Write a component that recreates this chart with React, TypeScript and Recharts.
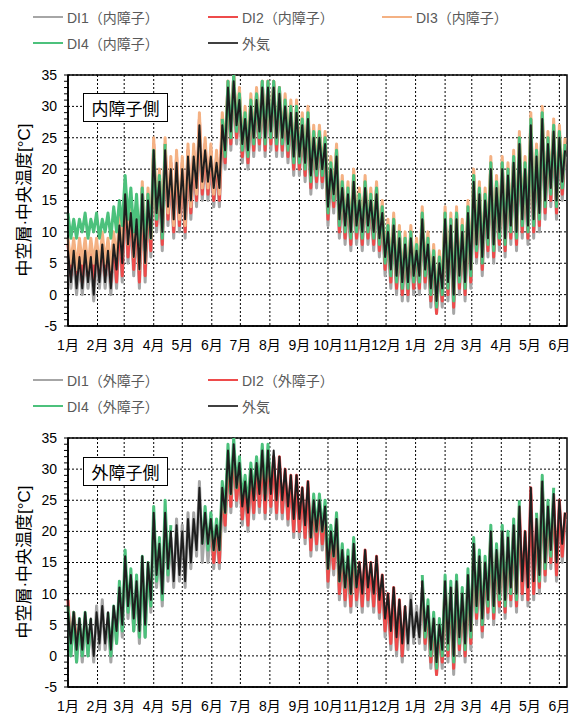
import React from 'react';
import { LineChart, Line, XAxis, YAxis, CartesianGrid, ReferenceArea } from 'recharts';

const N = null;
const DAY_STEP = 3; // one sample every 3 days from Jan 1

const MONTH_TICKS = [0, 31, 59, 90, 120, 151, 181, 212, 243, 273, 304, 334, 365, 396, 424, 455, 485, 516];
const MONTH_LABELS = ['1月', '2月', '3月', '4月', '5月', '6月', '7月', '8月', '9月', '10月', '11月', '12月', '1月', '2月', '3月', '4月', '5月', '6月'];
const Y_TICKS = [-5, -4, -3, -2, -1, 0, 1, 2, 3, 4, 5, 6, 7, 8, 9, 10, 11, 12, 13, 14, 15, 16, 17, 18, 19, 20, 21, 22, 23, 24, 25, 26, 27, 28, 29, 30, 31, 32, 33, 34, 35];
const Y_GRID = [-5, 0, 5, 10, 15, 20, 25, 30, 35];

// 外気
const OUT_AIR = [
  7, 2, 7, 1, 6, 1, 7, 2, 6, 0,
  7, 2, 8, 2, 7, 1, 8, 4, 11, 5,
  16, 8, 13, 6, 12, 4, 16, 5, 15, 9,
  23, 13, 18, 10, 23, 14, 20, 12, 21, 13,
  20, 12, 22, 15, 22, 17, 27, 18, 23, 18,
  22, 17, 21, 17, 27, 23, 33, 26, 34, 27,
  31, 24, 28, 23, 30, 25, 31, 26, 33, 25,
  33, 26, 33, 25, 32, 25, 30, 24, 29, 22,
  29, 22, 27, 21, 28, 19, 25, 20, 25, 20,
  24, 14, 20, 16, 22, 12, 17, 11, 16, 10,
  18, 11, 15, 10, 17, 11, 15, 10, 16, 9,
  13, 6, 10, 4, 11, 3, 9, 2, 8, 2,
  9, 3, 7, 3, 12, 4, 8, 1, 6, -1,
  5, 1, 12, 2, 11, 0, 12, 3, 10, 2,
  13, 4, 18, 8, 16, 6, 15, 9, 20, 8,
  17, 10, 20, 9, 19, 11, 21, 10, 24, 12,
  20, 11, 27, 12, 22, 13, 28, 15, 24, 17,
  26, 15, 25, 18, 23,
];

// 内障子側
const IN_DI1 = [
  6, 1, 6, 0, 5, 0, 6, 1, 5, -1,
  6, 1, 7, 1, 6, 0, 7, 1, 10, 2,
  15, 5, 12, 3, 11, 1, 15, 2, 14, 6,
  22, 10, 17, 7, 22, 11, 19, 9, 20, 10,
  19, 9, 21, 12, 21, 14, 26, 15, 22, 15,
  21, 14, 20, 14, 26, 20, 32, 23, 33, 24,
  30, 21, 27, 20, 29, 22, 30, 23, 32, 22,
  32, 23, 32, 22, 31, 22, 29, 21, 28, 19,
  28, 19, 26, 18, 27, 16, 24, 17, 24, 17,
  23, 11, 19, 13, 21, 9, 16, 8, 15, 7,
  17, 8, 14, 7, 16, 8, 14, 7, 15, 6,
  12, 3, 9, 1, 10, 0, 8, -1, 7, -1,
  8, 0, 6, 0, 11, 1, 7, -2, 5, -3,
  4, -2, 11, -1, 10, -3, 11, 0, 9, -1,
  12, 1, 17, 5, 15, 3, 14, 6, 19, 5,
  16, 7, 19, 6, 18, 8, 20, 7, 23, 9,
  19, 8, 26, 9, 21, 10, 27, 12, 23, 14,
  25, 12, 24, 15, 22,
];

const IN_DI2 = [
  8, 3, 8, 3, 7, 2, 8, 3, 7, 2,
  8, 3, 8, 3, 8, 2, 9, 2, 12, 3,
  17, 6, 14, 4, 13, 2, 17, 3, 16, 7,
  24, 11, 19, 8, 24, 12, 21, 10, 22, 11,
  21, 10, 23, 13, 23, 15, 28, 16, 24, 16,
  23, 15, 22, 15, 28, 21, 34, 24, 35, 25,
  32, 22, 29, 21, 31, 23, 32, 24, 34, 23,
  34, 24, 34, 23, 33, 23, 31, 22, 30, 20,
  30, 20, 28, 19, 29, 17, 26, 18, 26, 18,
  25, 12, 21, 14, 23, 10, 18, 9, 17, 8,
  19, 9, 16, 8, 18, 9, 16, 8, 17, 7,
  14, 4, 11, 2, 12, 1, 10, 0, 9, 0,
  10, 1, 8, 1, 13, 2, 9, -1, 7, -3,
  6, -1, 13, 0, 12, -2, 13, 1, 11, 0,
  14, 2, 19, 6, 17, 4, 16, 7, 21, 6,
  18, 8, 21, 7, 20, 9, 22, 8, 25, 10,
  21, 9, 28, 10, 23, 11, 29, 13, 25, 15,
  27, 13, 26, 16, 24,
];

const IN_DI3 = [
  9, 5, 9, 4, 9, 5, 9, 4, 9, 5,
  9, 4, 10, 5, 9, 4, 10, 5, 13, 6,
  18, 8, 15, 6, 14, 4, 18, 5, 17, 9,
  25, 13, 20, 10, 25, 13, 22, 11, 23, 12,
  22, 11, 24, 14, 24, 16, 29, 17, 25, 17,
  24, 16, 23, 16, 29, 23, 34, 26, 35, 27,
  33, 24, 30, 23, 32, 25, 33, 26, 34, 25,
  34, 26, 34, 25, 33, 25, 32, 24, 31, 22,
  31, 22, 29, 21, 30, 19, 27, 20, 27, 20,
  26, 14, 22, 16, 24, 12, 19, 11, 18, 10,
  20, 11, 17, 10, 19, 11, 17, 10, 18, 9,
  15, 6, 12, 4, 13, 3, 11, 2, 10, 2,
  11, 3, 9, 3, 14, 4, 10, 1, 8, -1,
  7, 1, 14, 2, 13, 0, 14, 3, 12, 2,
  15, 4, 20, 8, 18, 6, 17, 9, 22, 8,
  19, 10, 22, 9, 21, 11, 23, 10, 26, 12,
  22, 11, 29, 12, 24, 13, 30, 15, 26, 17,
  28, 15, 27, 18, 25,
];

const IN_DI4 = [
  13, 9, 12, 9, 12, 10, 13, 9, 12, 10,
  13, 9, 12, 10, 13, 9, 14, 10, 15, 11,
  19, 12, 17, 10, 16, 8, 17, 7, 16, 9,
  23, 12, 19, 9, 24, N, N, N, N, N,
  N, N, N, N, N, N, N, N, N, N,
  N, N, N, N, 28, 22, 34, 25, 35, 26,
  32, 23, 29, 22, 31, 24, 32, 25, 34, 24,
  34, 25, 34, 24, 33, 24, 31, 23, 30, 21,
  30, 21, 28, 20, 29, 18, 26, 19, 26, 19,
  25, 13, 21, 15, 23, 11, 18, 10, 17, 9,
  19, 10, 16, 9, 18, 10, 16, 9, 17, 8,
  14, 5, 11, 3, 12, 2, 10, 1, 9, 1,
  10, 2, 8, 2, 13, 3, 9, 0, 7, -2,
  6, 0, 13, 1, 12, -1, 13, 2, 11, 1,
  14, 3, 19, 7, 17, 5, 16, 8, 21, 7,
  18, 9, 21, 8, 20, 10, 22, 9, 25, 11,
  21, 10, 28, 11, 23, 12, 29, 14, 25, 16,
  27, 14, 26, 17, 24,
];

// 外障子側
const EX_DI1 = [
  6, 0, 6, -1, 5, -1, 6, 0, 5, -1,
  8, 1, 9, 1, 6, -1, 7, 2, 10, 3,
  15, 6, 12, 4, 11, 2, 15, 3, 14, 7,
  22, 11, 17, 8, 22, 12, 19, 11, 22, 12,
  21, 11, 23, 14, 23, 16, 28, 15, 22, 15,
  21, 14, 20, 14, 26, 20, 32, 23, 33, 24,
  30, 21, 27, 20, 29, 22, 30, 23, 32, 22,
  32, 23, 32, 22, 31, 22, 29, 21, 28, 19,
  28, 19, 26, 18, 27, 16, 24, 17, 24, 17,
  23, 11, 19, 13, 21, 9, 16, 8, 15, 7,
  17, 8, 14, 7, 16, 8, 14, 7, 15, 6,
  12, 3, 9, 1, 10, 0, 8, -1, 7, 1,
  10, 2, 8, 2, 11, 1, 7, -2, 5, -3,
  4, -2, 11, -1, 10, -3, 11, 0, 9, -1,
  12, 1, 17, 5, 15, 3, 14, 6, 19, 5,
  16, 7, 19, 6, 18, 8, 20, 7, 23, 9,
  19, 8, 26, 9, 21, 10, 27, 12, 23, 14,
  25, 12, 24, 15, 22,
];

const EX_DI2 = [
  9, 1, 7, 2, N, N, N, N, N, N,
  N, N, N, N, N, N, N, N, N, N,
  N, N, N, N, N, N, N, N, N, N,
  N, N, N, N, N, N, N, N, N, N,
  N, N, N, N, N, N, N, N, N, N,
  22, 15, 21, 15, 27, 21, 32, 24, 33, 25,
  30, 22, 28, 21, 30, 23, 31, 24, 32, 23,
  33, 24, 32, 23, 32, 23, 30, 22, 29, 20,
  29, 20, 27, 19, 28, 17, 25, 18, 25, 18,
  24, 12, 20, 14, 22, 10, 17, 9, 16, 8,
  18, 9, 15, 8, 17, 9, 15, 8, 16, 7,
  13, 4, 10, 2, 11, 1, 9, 0, 8, N,
  N, N, N, N, 12, 2, 8, -1, 6, -3,
  5, -1, 12, 0, 11, -2, 12, 1, 10, 0,
  13, 2, 18, 6, 16, 4, 15, 7, 20, 6,
  17, 8, 20, 7, 19, 9, 21, 8, 24, 10,
  20, 9, 27, 10, 22, 11, 28, 13, 24, 15,
  26, 13, 25, 16, 23,
];

const EX_DI4 = [
  8, 0, 7, -1, 6, 0, 7, 0, 6, N,
  N, N, N, N, 7, 0, 8, 2, 12, 4,
  17, 7, 14, 4, 13, 3, 16, 3, 15, 8,
  24, 12, 19, 9, 25, 13, 21, N, N, N,
  N, N, N, N, N, N, N, 18, 24, 17,
  23, 17, 22, 17, 28, 23, 34, 26, 35, 27,
  32, 25, 29, 24, 31, 26, 32, 27, 34, 26,
  34, 27, N, N, N, N, N, N, N, N,
  N, N, N, N, N, 19, 26, 20, 26, 20,
  25, 14, 21, 16, 23, 12, 18, 11, 17, 10,
  19, 11, N, N, N, N, N, N, N, N,
  N, N, N, N, N, N, N, N, N, N,
  N, N, N, N, 13, 3, 9, 0, 7, -2,
  6, 0, 13, 1, 12, -1, 13, 2, 11, 1,
  14, 3, 19, 7, 17, 5, 16, 8, 21, 7,
  18, 9, 21, 8, 20, 10, 22, 9, 25, N,
  N, N, N, N, 23, 12, 29, 14, 25, 16,
  27, N, N, N, N,
];

const C = {
  di1: '#a6a6a6',
  di2: '#ee4b4b',
  di3: '#f4b183',
  di4: '#4cc17c',
  out: '#1e1e1e',
};

const FONT = '"Liberation Sans", Arial, "Noto Sans CJK JP", sans-serif';

const inRows = OUT_AIR.map((v, i) => ({
  day: i * DAY_STEP, out: v, di1: IN_DI1[i], di2: IN_DI2[i], di3: IN_DI3[i], di4: IN_DI4[i],
}));
const exRows = OUT_AIR.map((v, i) => ({
  day: i * DAY_STEP, out: v, di1: EX_DI1[i], di2: EX_DI2[i], di4: EX_DI4[i],
}));

type Item = { label: string; color: string; x: number; y: number };

function LegendBlock({ items }: { items: Item[] }) {
  return (
    <>
      {items.map((it) => (
        <div key={it.label} style={{ position: 'absolute', left: it.x, top: it.y - 9, height: 18, display: 'flex', alignItems: 'center' }}>
          <div style={{ width: 30, height: 2, background: it.color, marginRight: 4 }} />
          <span style={{ fontSize: 14, color: '#595959', whiteSpace: 'nowrap' }}>{it.label}</span>
        </div>
      ))}
    </>
  );
}

function Panel({ rows, lines, top, bottomMargin }: { rows: any[]; lines: { key: string; color: string; w: number }[]; top: number; bottomMargin: number }) {
  return (
    <div style={{ position: 'absolute', left: 0, top }}>
      <LineChart width={578} height={300} data={rows} margin={{ top: 15, right: 11, left: 8, bottom: bottomMargin }}>
        <CartesianGrid stroke="#000" strokeDasharray="2 2" horizontalValues={Y_GRID} verticalValues={MONTH_TICKS} />
        <XAxis
          dataKey="day"
          type="number"
          domain={[0, 524]}
          ticks={MONTH_TICKS}
          interval={0}
          tickFormatter={(v: number) => MONTH_LABELS[MONTH_TICKS.indexOf(v)]}
          tickLine={false}
          axisLine={{ stroke: '#000', strokeWidth: 1.5 }}
          tick={{ fill: '#000', fontSize: 14 }}
          tickMargin={8}
          height={30}
        />
        <YAxis
          type="number"
          domain={[-5, 35]}
          ticks={Y_TICKS}
          interval={0}
          allowDataOverflow
          tickFormatter={(v: number) => (v % 5 === 0 ? String(v) : '')}
          tickSize={4}
          tickLine={{ stroke: '#000' }}
          axisLine={{ stroke: '#000', strokeWidth: 1.5 }}
          tick={{ fill: '#000', fontSize: 14 }}
          tickMargin={7}
          width={60}
        />
        {lines.map((l) => (
          <Line
            key={l.key}
            dataKey={l.key}
            stroke={l.color}
            strokeWidth={l.w}
            strokeLinejoin="round"
            dot={false}
            activeDot={false}
            isAnimationActive={false}
            type="linear"
          />
        ))}
        <ReferenceArea x1={0} x2={524} y1={-5} y2={35} fill="none" stroke="#000" strokeWidth={1.5} />
      </LineChart>
    </div>
  );
}

function Tag({ text, top }: { text: string; top: number }) {
  return (
    <div style={{ position: 'absolute', left: 83, top, width: 85, height: 29, boxSizing: 'border-box', border: '1px solid #000', background: '#fff', display: 'flex', alignItems: 'center', justifyContent: 'center', fontSize: 17, color: '#000' }}>
      {text}
    </div>
  );
}

function YTitle({ cy }: { cy: number }) {
  return (
    <div style={{ position: 'absolute', left: 22, top: cy, transform: 'translate(-50%, -50%) rotate(-90deg)', whiteSpace: 'nowrap', fontSize: 17, color: '#000' }}>
      中空層·中央温度[°C]
    </div>
  );
}

export default function App() {
  const inLines = [
    { key: 'di1', color: C.di1, w: 3 },
    { key: 'di2', color: C.di2, w: 3 },
    { key: 'di3', color: C.di3, w: 3 },
    { key: 'di4', color: C.di4, w: 3 },
    { key: 'out', color: C.out, w: 2 },
  ];
  const exLines = [
    { key: 'di1', color: C.di1, w: 3 },
    { key: 'di2', color: C.di2, w: 3 },
    { key: 'di4', color: C.di4, w: 3 },
    { key: 'out', color: C.out, w: 2 },
  ];
  return (
    <div style={{ position: 'absolute', left: 0, top: 0, width: 578, height: 715, background: '#fff', fontFamily: FONT }}>
      <LegendBlock
        items={[
          { label: 'DI1（内障子）', color: C.di1, x: 33, y: 17 },
          { label: 'DI2（内障子）', color: C.di2, x: 208, y: 17 },
          { label: 'DI3（内障子）', color: C.di3, x: 382, y: 17 },
          { label: 'DI4（内障子）', color: C.di4, x: 33, y: 43 },
          { label: '外気', color: '#404040', x: 208, y: 43 },
        ]}
      />
      <Panel rows={inRows} lines={inLines} top={60} bottomMargin={4} />
      <Tag text="内障子側" top={93} />
      <YTitle cy={200} />
      <LegendBlock
        items={[
          { label: 'DI1（外障子）', color: C.di1, x: 33, y: 380 },
          { label: 'DI2（外障子）', color: C.di2, x: 208, y: 380 },
          { label: 'DI4（外障子）', color: C.di4, x: 33, y: 406 },
          { label: '外気', color: '#404040', x: 208, y: 406 },
        ]}
      />
      <Panel rows={exRows} lines={exLines} top={423} bottomMargin={6} />
      <Tag text="外障子側" top={457} />
      <YTitle cy={562} />
    </div>
  );
}
